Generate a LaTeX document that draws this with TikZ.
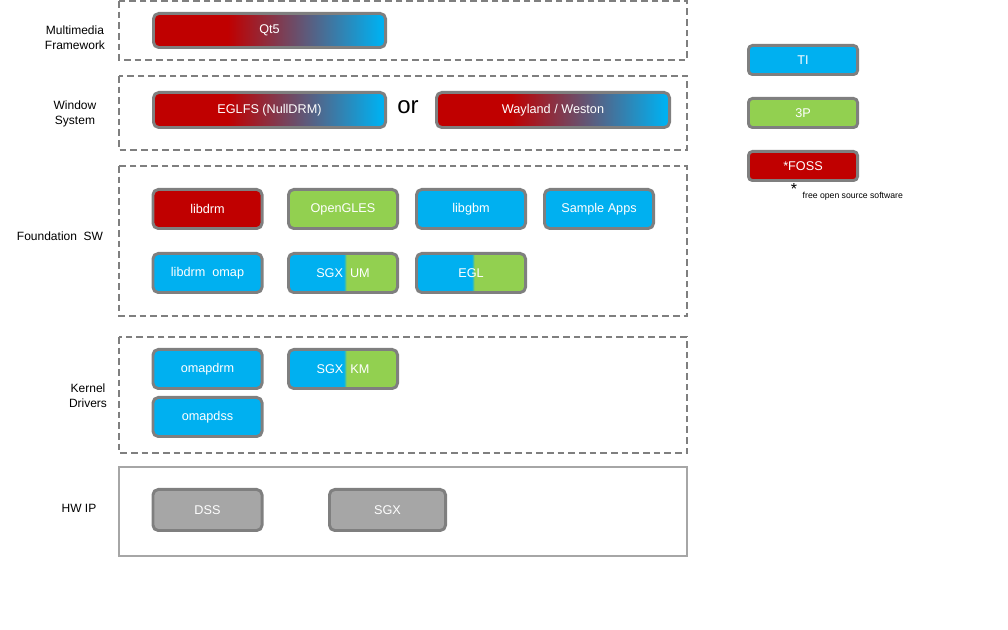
\documentclass[tikz,border=0pt]{standalone}
\usepackage{fontspec}
\setmainfont{Liberation Sans}
\definecolor{tired}{HTML}{C00000}
\definecolor{tiblue}{HTML}{00B0F0}
\definecolor{tpgreen}{HTML}{92D050}
\definecolor{hwgray}{HTML}{A6A6A6}
\definecolor{bord}{HTML}{7F7F7F}
\pgfdeclarehorizontalshading{redblue}{100bp}{color(0bp)=(tired); color(41bp)=(tired); color(74bp)=(tiblue); color(100bp)=(tiblue)}
\pgfdeclarehorizontalshading{bluegreen}{100bp}{color(0bp)=(tiblue); color(50.5bp)=(tiblue); color(51.5bp)=(tpgreen); color(100bp)=(tpgreen)}
\begin{document}
\begin{tikzpicture}[x=0.75pt,y=-0.75pt,
  lay/.style={draw=bord,dashed,line width=1.4pt,dash pattern=on 5pt off 3pt},
  box/.style={draw=bord,line width=2.2pt,rounded corners=4pt,text=white,font=\fontsize{9.5}{11}\selectfont},
  red/.style={box,fill=tired},
  blue/.style={box,fill=tiblue},
  green/.style={box,fill=tpgreen},
  gray/.style={box,fill=hwgray},
  rb/.style={box,shading=redblue},
  bg/.style={box,shading=bluegreen},
  lab/.style={font=\fontsize{9}{11}\selectfont,align=center}]
\useasboundingbox (0,0) rectangle (1008,630);
% layers
\draw[lay] (119,1) rectangle (687,60);
\draw[lay] (119,76) rectangle (687,150);
\draw[lay] (119,166) rectangle (687,316);
\draw[lay] (119,337) rectangle (687,453);
\draw[draw=hwgray,line width=1.6pt] (119,467) rectangle (687,556);
% labels
\node[lab] (l1) at (75,38) {Multimedia\\Framework};
\node[lab] (l2) at (75,114) {Window\\System};
\node[lab] (l3) at (60,236) {Foundation\ \ SW};
\node[lab] (l4) at (88,396) {Kernel\\Drivers};
\node[lab] (l5) at (79,508) {HW IP};
% boxes
\node[rb] (qt) at (152,12) [anchor=north west,minimum width=235*0.75pt-2.2pt,minimum height=37*0.75pt-2.2pt] {};
\node[text=white,font=\fontsize{9.5}{11}\selectfont] (qtt) at (269.5,30.5) {Qt5};
\node[rb,anchor=north west,minimum width=235*0.75pt-2.2pt,minimum height=38*0.75pt-2.2pt] (egl) at (152,91) {};
\node[text=white,font=\fontsize{9.5}{11}\selectfont] (eglt) at (269.5,110) {EGLFS (NullDRM)};
\node[font=\fontsize{18}{20}\selectfont] (or) at (408,107) {or};
\node[rb,anchor=north west,minimum width=236*0.75pt-2.2pt,minimum height=38*0.75pt-2.2pt] (way) at (435,91) {};
\node[text=white,font=\fontsize{9.5}{11}\selectfont] (wayt) at (553,110) {Wayland / Weston};
\tikzset{sb/.style={minimum width=112*0.75pt-2.2pt,minimum height=42*0.75pt-2.2pt}}
\node[red,sb] (libdrm) at (207.5,209) {libdrm};
\node[green,sb] (gles) at (343,209) {OpenGLES};
\node[blue,sb] (gbm) at (471,209) {libgbm};
\node[blue,sb] (apps) at (599,209) {Sample Apps};
\node[blue,sb] (omap) at (207.5,273) {libdrm\ \ omap};
\node[bg,sb] (sgxum) at (343,273) {SGX\ \ UM};
\node[bg,sb] (eglb) at (471,273) {EGL};
\node[blue,sb] (omapdrm) at (207.5,369) {omapdrm};
\node[bg,sb] (sgxkm) at (343,369) {SGX\ \ KM};
\node[blue,sb] (omapdss) at (207.5,417) {omapdss};
\node[gray,sb,minimum height=44*0.75pt-2.2pt] (dss) at (207.5,510) {DSS};
\node[gray,minimum width=119*0.75pt-2.2pt,minimum height=44*0.75pt-2.2pt] (sgx) at (387.5,510) {SGX};
% legend
\tikzset{lb/.style={minimum width=112*0.75pt-2.2pt,minimum height=32*0.75pt-2.2pt,rounded corners=3pt}}
\node[blue,lb] (ti) at (803,60) {TI};
\node[green,lb] (tp) at (803,113) {3P};
\node[red,lb] (foss) at (803,166) {*FOSS};
\node[font=\fontsize{12}{12}\selectfont] (star) at (794,189) {*};
\node[anchor=west,font=\fontsize{6.5}{8}\selectfont] (fosst) at (798,196) {free open source software};
\end{tikzpicture}
\end{document}
